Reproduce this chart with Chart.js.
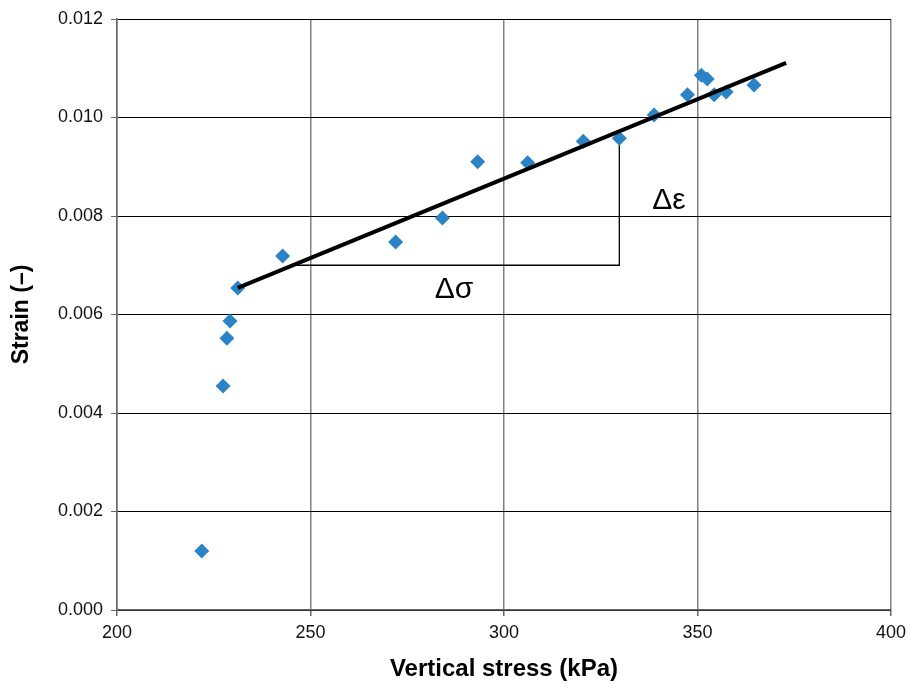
<!DOCTYPE html>
<html>
<head>
<meta charset="utf-8">
<script src="https://cdn.jsdelivr.net/npm/chart.js@4.4.1/dist/chart.umd.min.js"></script>
<style>
  html, body { margin: 0; padding: 0; background: #fff; }
  #wrap { width: 912px; height: 688px; position: relative; }
</style>
</head>
<body>
<div id="wrap"><canvas id="strainChart"></canvas></div>
<script>
// Measured points: vertical stress (kPa) vs strain (-)
const stress = [221.9, 227.4, 228.4, 229.2, 231.2, 242.8, 272.0, 284.1, 293.2, 306.1,
                320.5, 329.8, 338.8, 347.4, 351.0, 352.5, 354.3, 357.4, 364.6];
const strain = [0.00120, 0.00455, 0.00552, 0.00587, 0.00654, 0.00719, 0.00747, 0.00796, 0.00910, 0.00908,
                0.00952, 0.00958, 0.01005, 0.01046, 0.01086, 0.01078, 0.01046, 0.01052, 0.01066];

// Linear fit over the upper branch
const fitStress = [231.2, 372.9];
const fitStrain = [0.00654, 0.01111];

// Slope triangle (Δσ horizontal leg, Δε vertical leg)
const triStress = [245.5, 329.8, 329.8];
const triStrain = [0.00700, 0.00700, 0.00958];

// Leg labels
const legLabels = ['Δε', 'Δσ'];
const legStress = [342.6, 287.1];
const legStrain = [0.00832, 0.00650];

const xTicks = [200, 250, 300, 350, 400];
const yTicks = [0, 0.002, 0.004, 0.006, 0.008, 0.010, 0.012];

const toPoints = (xs, ys) => xs.map((x, i) => ({ x: x, y: ys[i] }));

const legText = {
    id: 'legText',
    afterDatasetsDraw(chart) {
        const { ctx, scales: { x, y } } = chart;
        ctx.save();
        ctx.fillStyle = '#000';
        ctx.font = '30px "Liberation Sans", Arial, sans-serif';
        ctx.textAlign = 'center';
        ctx.textBaseline = 'middle';
        legLabels.forEach((t, i) => {
            ctx.fillText(t, x.getPixelForValue(legStress[i]), y.getPixelForValue(legStrain[i]));
        });
        ctx.restore();
    }
};

const tickFont = { family: '"Liberation Sans", Arial, sans-serif', size: 18 };
const titleFont = { family: '"Liberation Sans", Arial, sans-serif', weight: 'bold' };

new Chart(document.getElementById('strainChart').getContext('2d'), {
    type: 'scatter',
    data: {
        datasets: [
            {
                label: 'Fit',
                data: toPoints(fitStress, fitStrain),
                showLine: true,
                borderColor: '#000',
                borderWidth: 4,
                pointRadius: 0,
                order: 1
            },
            {
                label: 'Triangle',
                data: toPoints(triStress, triStrain),
                showLine: true,
                borderColor: '#000',
                borderWidth: 1.3,
                pointRadius: 0,
                order: 3
            },
            {
                label: 'Measured',
                data: toPoints(stress, strain),
                pointStyle: 'rectRot',
                pointRadius: 7.5,
                pointHoverRadius: 7.5,
                backgroundColor: '#2B83C6',
                borderColor: '#2B83C6',
                borderWidth: 0,
                order: 2
            }
        ]
    },
    options: {
        responsive: true,
        maintainAspectRatio: false,
        animation: false,
        layout: { padding: { top: 19, right: 20, left: 0, bottom: 0 } },
        plugins: { legend: { display: false }, tooltip: { enabled: false } },
        scales: {
            x: {
                type: 'linear',
                min: 200,
                max: 400,
                afterFit: s => { s.height = 78; },
                afterBuildTicks: s => { s.ticks = xTicks.map(v => ({ value: v })); },
                ticks: { color: '#111', font: tickFont, padding: 6, maxRotation: 0 },
                grid: { color: '#808080', lineWidth: 1.5, tickLength: 6, tickColor: '#666' },
                border: { color: '#666', width: 1.5 },
                title: { display: true, text: 'Vertical stress (kPa)', color: '#000', font: { ...titleFont, size: 24 }, padding: { top: 4 } }
            },
            y: {
                type: 'linear',
                min: 0,
                max: 0.012,
                afterFit: s => { s.width = 117; },
                afterBuildTicks: s => { s.ticks = yTicks.map(v => ({ value: v })); },
                ticks: { color: '#111', font: tickFont, padding: 8, callback: v => v.toFixed(3) },
                grid: { color: '#000', lineWidth: 1, tickLength: 6, tickColor: '#666' },
                border: { color: '#666', width: 1.5 },
                title: { display: true, text: 'Strain (–)', color: '#000', font: { ...titleFont, size: 23 }, padding: { top: 8, bottom: 4 } }
            }
        }
    },
    plugins: [legText]
});
</script>
</body>
</html>
